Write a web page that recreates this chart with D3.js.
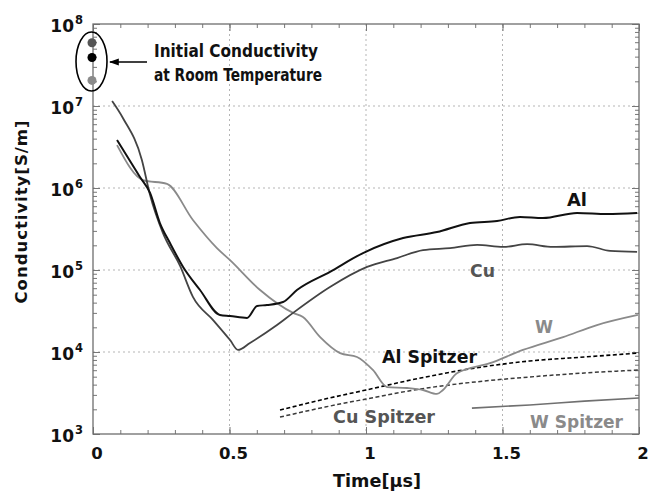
<!DOCTYPE html>
<html>
<head>
<meta charset="utf-8">
<script src="https://cdn.jsdelivr.net/npm/d3@7"></script>
<style>
  body { margin: 0; background: #fff; }
  svg { display: block; }
  text { font-family: "DejaVu Sans", "Liberation Sans", sans-serif; font-weight: bold; }
</style>
</head>
<body>
<svg id="chart" width="650" height="491"></svg>
<script>
// Time axis in microseconds, conductivity in S/m.
const alTime  = [0.088, 0.172, 0.209, 0.245, 0.282, 0.330, 0.392, 0.465, 0.502, 0.564, 0.601, 0.637, 0.696, 0.747, 0.868, 0.989, 1.136, 1.260, 1.381, 1.480, 1.564, 1.648, 1.773, 1.883, 1.993];
const alSigma = [3.85e6, 1.36e6, 8.7e5, 3.74e5, 2.13e5, 1.09e5, 5.7e4, 2.83e4, 2.75e4, 2.6e4, 3.64e4, 3.74e4, 4.07e4, 5.7e4, 9.5e4, 1.61e5, 2.45e5, 2.9e5, 3.74e5, 3.96e5, 4.43e5, 4.3e5, 4.96e5, 4.82e5, 4.96e5];

const cuTime  = [0.070, 0.110, 0.179, 0.209, 0.256, 0.319, 0.366, 0.440, 0.502, 0.531, 0.575, 0.674, 0.733, 0.868, 1.004, 1.114, 1.209, 1.308, 1.407, 1.502, 1.590, 1.685, 1.810, 1.894, 1.993];
const cuSigma = [1.15e7, 7.1e6, 2.2e6, 8.2e5, 2.83e5, 1.12e5, 4.7e4, 2.45e4, 1.4e4, 1.06e4, 1.29e4, 2.13e4, 3.0e4, 6.2e4, 1.09e5, 1.4e5, 1.75e5, 1.85e5, 2.02e5, 1.91e5, 2.07e5, 1.91e5, 1.96e5, 1.71e5, 1.66e5];

const wTime  = [0.088, 0.183, 0.271, 0.366, 0.454, 0.502, 0.612, 0.733, 0.769, 0.832, 0.905, 0.967, 1.026, 1.077, 1.150, 1.209, 1.260, 1.282, 1.333, 1.454, 1.575, 1.722, 1.846, 1.996];
const wSigma = [3.34e6, 1.25e6, 1.12e6, 4.07e5, 1.85e5, 1.32e5, 5.7e4, 3.0e4, 2.67e4, 1.52e4, 9.7e3, 8.7e3, 6.0e3, 3.74e3, 3.64e3, 3.44e3, 3.08e3, 3.44e3, 5.5e3, 7.3e3, 1.06e4, 1.52e4, 2.13e4, 2.83e4];

// Spitzer model estimates
const spitzerTime   = [0.685, 0.85, 1.0, 1.2, 1.4, 1.6, 1.8, 2.0];
const alSpitzer     = [1.96e3, 2.67e3, 3.44e3, 4.82e3, 6.38e3, 7.77e3, 8.69e3, 9.72e3];
const cuSpitzer     = [1.61e3, 2.13e3, 2.67e3, 3.54e3, 4.31e3, 4.96e3, 5.55e3, 6.03e3];
const wSpitzerTime  = [1.388, 1.6, 1.8, 2.0];
const wSpitzer      = [2.07e3, 2.26e3, 2.52e3, 2.75e3];

// Room-temperature conductivity at t = 0
const initialMetals = ["Cu", "Al", "W"];
const initialSigma  = [5.9e7, 3.9e7, 2.05e7];

const xTickValues = [0, 0.5, 1, 1.5, 2];
const xTickLabels = ["0", "0.5", "1", "1.5", "2"];
const yTickValues = [1e3, 1e4, 1e5, 1e6, 1e7, 1e8];
const yTickExponents = ["3", "4", "5", "6", "7", "8"];

const svg = d3.select("#chart");
const plot = { left: 93, right: 639, top: 24, bottom: 434 };

const x = d3.scaleLinear().domain([0, 2]).range([plot.left, plot.right]);
const y = d3.scaleLog().domain([1e3, 1e8]).range([plot.bottom, plot.top]);

// dotted grid at major ticks
const grid = svg.append("g").attr("stroke", "#b5b5b5").attr("stroke-width", 1).attr("stroke-dasharray", "2,3");
xTickValues.slice(1, -1).forEach(t => {
  grid.append("line").attr("x1", x(t)).attr("x2", x(t)).attr("y1", plot.top).attr("y2", plot.bottom);
});
yTickValues.slice(1, -1).forEach(v => {
  grid.append("line").attr("x1", plot.left).attr("x2", plot.right).attr("y1", y(v)).attr("y2", y(v));
});

// inward ticks on all four sides
const minorX = d3.range(0, 2.0001, 0.1).map(d => +d.toFixed(1));
const minorY = [];
for (let e = 3; e < 8; e++) for (let m = 2; m <= 9; m++) minorY.push(m * Math.pow(10, e));

function tickAxis(gen, transform) {
  const g = svg.append("g").attr("transform", transform).call(gen);
  g.select(".domain").remove();
  g.selectAll("line").attr("stroke", "#777").attr("stroke-width", 1);
  g.selectAll("text").remove();
  return g;
}
tickAxis(d3.axisBottom(x).tickValues(minorX).tickSize(-4), `translate(0,${plot.bottom})`);
tickAxis(d3.axisBottom(x).tickValues(xTickValues).tickSize(-7), `translate(0,${plot.bottom})`);
tickAxis(d3.axisTop(x).tickValues(minorX).tickSize(-4), `translate(0,${plot.top})`);
tickAxis(d3.axisTop(x).tickValues(xTickValues).tickSize(-7), `translate(0,${plot.top})`);
tickAxis(d3.axisLeft(y).tickValues(minorY).tickSize(-4), `translate(${plot.left},0)`);
tickAxis(d3.axisLeft(y).tickValues(yTickValues).tickSize(-7), `translate(${plot.left},0)`);
tickAxis(d3.axisRight(y).tickValues(minorY).tickSize(-4), `translate(${plot.right},0)`);
tickAxis(d3.axisRight(y).tickValues(yTickValues).tickSize(-7), `translate(${plot.right},0)`);

// frame
svg.append("rect")
  .attr("x", plot.left).attr("y", plot.top)
  .attr("width", plot.right - plot.left).attr("height", plot.bottom - plot.top)
  .attr("fill", "none").attr("stroke", "#6e6e6e").attr("stroke-width", 1.3);

// tick labels
svg.append("g").selectAll("text").data(xTickValues).join("text")
  .attr("x", d => x(d) + 4).attr("y", 459)
  .attr("text-anchor", "middle").attr("font-size", 16.5).attr("fill", "#111")
  .text((d, i) => xTickLabels[i]);

const yLab = svg.append("g").selectAll("text").data(yTickValues).join("text")
  .attr("x", 83).attr("y", d => y(d) + 8)
  .attr("text-anchor", "end").attr("fill", "#111");
yLab.append("tspan").attr("font-size", 17).text("10");
yLab.append("tspan").attr("font-size", 11.5).attr("dx", 1).attr("dy", -8).text((d, i) => yTickExponents[i]);

// axis titles
svg.append("text")
  .attr("x", 377).attr("y", 487).attr("text-anchor", "middle")
  .attr("font-size", 17).attr("fill", "#111")
  .attr("textLength", 88).attr("lengthAdjust", "spacingAndGlyphs")
  .text("Time[μs]");
svg.append("text")
  .attr("transform", "translate(27,212) rotate(-90)")
  .attr("text-anchor", "middle").attr("font-size", 16.5).attr("fill", "#111")
  .attr("textLength", 183).attr("lengthAdjust", "spacing")
  .text("Conductivity[S/m]");

// curves
const line = d3.line().x(d => x(d[0])).y(d => y(d[1])).curve(d3.curveMonotoneX);
const zipSeries = (ts, vs) => ts.map((t, i) => [t, vs[i]]);

const curves = [
  { pts: zipSeries(spitzerTime, cuSpitzer), color: "#3a3a3a", width: 1.5, dash: "4,2.5" },
  { pts: zipSeries(spitzerTime, alSpitzer), color: "#000", width: 1.6, dash: "4,2.5" },
  { pts: zipSeries(wSpitzerTime, wSpitzer), color: "#707070", width: 1.6, dash: null },
  { pts: zipSeries(wTime, wSigma), color: "#8a8a8a", width: 1.8, dash: null },
  { pts: zipSeries(cuTime, cuSigma), color: "#444", width: 1.8, dash: null },
  { pts: zipSeries(alTime, alSigma), color: "#111", width: 2, dash: null }
];
svg.append("g").selectAll("path").data(curves).join("path")
  .attr("d", d => line(d.pts))
  .attr("fill", "none")
  .attr("stroke", d => d.color)
  .attr("stroke-width", d => d.width)
  .attr("stroke-linejoin", "round")
  .attr("stroke-dasharray", d => d.dash);

// curve labels
const curveLabels = [
  { text: "Al", x: 567, y: 206, len: 20, color: "#111" },
  { text: "Cu", x: 470, y: 277, len: 25, color: "#555" },
  { text: "W", x: 535, y: 333, len: 18, color: "#8a8a8a" },
  { text: "Al Spitzer", x: 382, y: 363, len: 95, color: "#111" },
  { text: "Cu Spitzer", x: 333, y: 423, len: 102, color: "#555" },
  { text: "W Spitzer", x: 530, y: 428, len: 93, color: "#8a8a8a" }
];
svg.append("g").selectAll("text").data(curveLabels).join("text")
  .attr("x", d => d.x).attr("y", d => d.y)
  .attr("font-size", 17.5).attr("fill", d => d.color)
  .attr("textLength", d => d.len).attr("lengthAdjust", "spacingAndGlyphs")
  .text(d => d.text);

// room-temperature markers
const dotColor = { Cu: "#555", Al: "#000", W: "#8a8a8a" };
svg.append("ellipse")
  .attr("cx", x(0) - 1.5).attr("cy", 61.5).attr("rx", 15.5).attr("ry", 29.5)
  .attr("fill", "none").attr("stroke", "#000").attr("stroke-width", 1.6);
svg.append("g").selectAll("circle").data(initialMetals).join("circle")
  .attr("cx", x(0) - 1).attr("cy", (d, i) => y(initialSigma[i]))
  .attr("r", 4.5).attr("fill", d => dotColor[d]);

// annotation arrow and text
svg.append("defs").append("marker")
  .attr("id", "arrowhead").attr("viewBox", "0 0 10 10")
  .attr("refX", 9).attr("refY", 5).attr("markerWidth", 7).attr("markerHeight", 7)
  .attr("orient", "auto")
  .append("path").attr("d", "M0,1.5 L10,5 L0,8.5 Z").attr("fill", "#000");
svg.append("line")
  .attr("x1", 147).attr("y1", 62).attr("x2", 110).attr("y2", 62)
  .attr("stroke", "#000").attr("stroke-width", 1.4)
  .attr("marker-end", "url(#arrowhead)");
svg.append("text").attr("x", 154).attr("y", 57).attr("font-size", 17).attr("fill", "#111")
  .attr("textLength", 164).attr("lengthAdjust", "spacingAndGlyphs").text("Initial Conductivity");
svg.append("text").attr("x", 154).attr("y", 81).attr("font-size", 17).attr("fill", "#111")
  .attr("textLength", 168).attr("lengthAdjust", "spacingAndGlyphs").text("at Room Temperature");
</script>
</body>
</html>
